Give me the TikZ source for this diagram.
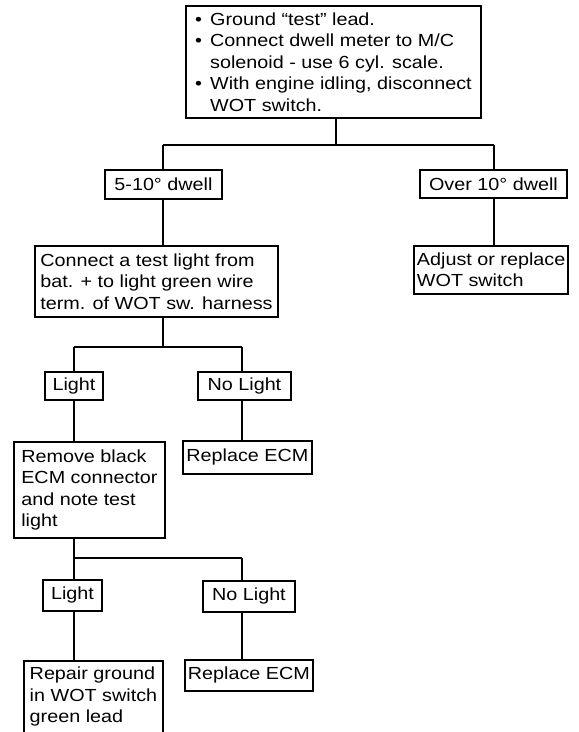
\documentclass[tikz,border=0pt]{standalone}
\usepackage{fontspec}
\setmainfont[FakeStretch=1.13]{Liberation Sans}
\newcommand{\bul}{\makebox[15pt][l]{\textbullet}}
\newcommand{\nobul}{\makebox[15pt]{}}
\tikzset{
  box/.style={draw, line width=1.9pt, anchor=north west, align=left,
    inner xsep=3pt, inner ysep=3pt, font=\fontsize{17.5}{21.5}\selectfont},
  link/.style={line width=1.7pt}
}
\begin{document}
\begin{tikzpicture}[x=1pt,y=-1pt]
\useasboundingbox (0,0) rectangle (579,732);
\fill[white] (0,0) rectangle (579,732);
\clip (0,0) rectangle (579,732);
% boxes
\node[box, minimum width=295pt, minimum height=112pt] (top) at (185,5)
  {\bul Ground ``test'' lead.\\
   \bul Connect dwell meter to M/C\\
   \nobul solenoid - use 6 cyl. scale.\\
   \bul With engine idling, disconnect\\
   \nobul WOT switch.};
\node[box, minimum width=117pt, minimum height=29pt] (dwa) at (104,169) {5-10° dwell};
\node[box, minimum width=147pt, minimum height=28pt] (dwb) at (419,169) {Over 10° dwell};
\node[box, minimum width=243pt, minimum height=71pt] (cona) at (34,245)
  {Connect a test light from\\ bat. + to light green wire\\ term. of WOT sw. harness};
\node[box, minimum width=153pt, minimum height=48pt] (adj) at (413,245)
  {Adjust or replace\\ WOT switch};
\node[box, minimum width=58pt, minimum height=28pt] (la) at (44,371) {Light};
\node[box, minimum width=93pt, minimum height=28pt] (na) at (197,371) {No Light};
\node[box, minimum width=151pt, minimum height=96pt] (rem) at (13,441)
  {Remove black\\ ECM connector\\ and note test\\ light};
\node[box, minimum width=129pt, minimum height=33pt] (repa) at (182,440) {Replace ECM};
\node[box, minimum width=59pt, minimum height=31pt] (lb) at (42,579) {Light};
\node[box, minimum width=92pt, minimum height=31pt] (nb) at (202,580) {No Light};
\node[box, minimum width=139pt, inner ysep=6pt] (repair) at (23,660)
  {Repair ground\\ in WOT switch\\ green lead\\ \mbox{}};
\node[box, minimum width=124pt, minimum height=31pt] (repb) at (184,659) {Replace ECM};
% junctions
\coordinate (s1) at (336,145);
\coordinate (ja) at (163,145);
\coordinate (jb) at (494,145);
\coordinate (jc) at (74,347);
\coordinate (jd) at (242,347);
\coordinate (je) at (74,558);
\coordinate (jf) at (242,558);
% connectors
\draw[link] (s1 |- top.south) -- (s1);
\draw[link] (ja) -- (jb);
\draw[link] (ja) -- (ja |- dwa.north);
\draw[link] (jb) -- (jb |- dwb.north);
\draw[link] (ja |- dwa.south) -- (ja |- cona.north);
\draw[link] (jb |- dwb.south) -- (jb |- adj.north);
\draw[link] (ja |- cona.south) -- (ja |- jc);
\draw[link] (jc) -- (jd);
\draw[link] (jc) -- (jc |- la.north);
\draw[link] (jd) -- (jd |- na.north);
\draw[link] (jc |- la.south) -- (jc |- rem.north);
\draw[link] (jd |- na.south) -- (jd |- repa.north);
\draw[link] (je |- rem.south) -- (je);
\draw[link] (je) -- (jf);
\draw[link] (je) -- (je |- lb.north);
\draw[link] (jf) -- (jf |- nb.north);
\draw[link] (je |- lb.south) -- (je |- repair.north);
\draw[link] (jf |- nb.south) -- (jf |- repb.north);
\end{tikzpicture}
\end{document}
